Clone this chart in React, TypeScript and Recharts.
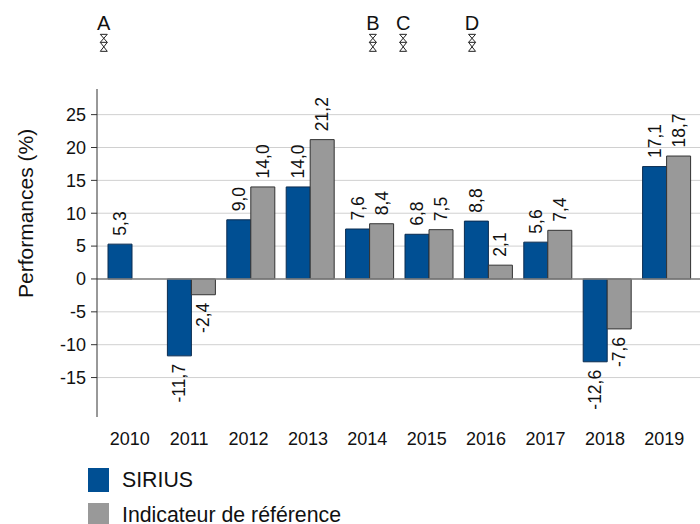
import { BarChart, Bar, XAxis, YAxis, CartesianGrid, Legend, LabelList, ReferenceLine, ReferenceDot } from "recharts";

const years = ["2010", "2011", "2012", "2013", "2014", "2015", "2016", "2017", "2018", "2019"];
const sirius = [5.3, -11.7, 9.0, 14.0, 7.6, 6.8, 8.8, 5.6, -12.6, 17.1];
const indicateur = [null, -2.4, 14.0, 21.2, 8.4, 7.5, 2.1, 7.4, -7.6, 18.7];
const yTicks = [-15, -10, -5, 0, 5, 10, 15, 20, 25];
const eventLabels = ["A", "B", "C", "D"];
const eventDates = [2010.03, 2014.56, 2015.07, 2016.23];

const data = years.map((year, i) => ({ year, sirius: sirius[i], indicateur: indicateur[i] }));

const FONT = "'Liberation Sans', Arial, sans-serif";
const TEXT = "#111111";
const BLUE = "#004f93";
const GREY = "#999999";

function BarValue({ x, y, width, height, value }: any) {
  if (value === null || value === undefined) return null;
  const top = Math.min(y, y + height);
  const bottom = Math.max(y, y + height);
  const cx = x + width / 2;
  const cy = value < 0 ? bottom + 8 : top - 8.5;
  return (
    <text
      x={cx}
      y={cy}
      transform={`rotate(-90 ${cx} ${cy})`}
      textAnchor={value < 0 ? "end" : "start"}
      dominantBaseline="central"
      fontSize={17.5}
      fontFamily={FONT}
      fill={TEXT}
    >
      {value.toFixed(1).replace(".", ",")}
    </text>
  );
}

function EventMark({ cx, cy, label }: any) {
  const l = cx - 3.5;
  const r = cx + 3.5;
  return (
    <g>
      <text x={cx} y={cy - 12} textAnchor="middle" fontSize={20} fontFamily={FONT} fill={TEXT}>
        {label}
      </text>
      <path
        d={`M${l} ${cy - 8}H${r}L${l} ${cy}H${r}L${l} ${cy + 9}H${r}M${l} ${cy - 8}L${r} ${cy}M${l} ${cy}L${r} ${cy + 9}`}
        fill="none"
        stroke="#222222"
        strokeWidth={1}
      />
    </g>
  );
}

function LegendBox() {
  const rows = [
    { name: "SIRIUS", color: BLUE },
    { name: "Indicateur de référence", color: GREY },
  ];
  return (
    <div style={{ fontFamily: FONT, fontSize: 21.3, lineHeight: "20px", color: TEXT }}>
      {rows.map((r) => (
        <div key={r.name} style={{ display: "flex", alignItems: "center", height: 35 }}>
          <span style={{ width: 21, height: 24, background: r.color, marginRight: 13 }} />
          <span>{r.name}</span>
        </div>
      ))}
    </div>
  );
}

export default function App() {
  return (
    <div style={{ position: "absolute", left: 0, top: 0, width: 700, height: 524, overflow: "hidden" }}>
      <BarChart
        width={700}
        height={524}
        data={data}
        barGap={0}
        barSize={24}
        margin={{ top: 89, right: 0, bottom: 67, left: 0 }}
      >
        <CartesianGrid vertical={false} stroke="#d0d0d0" horizontalValues={yTicks} />
        <XAxis
          dataKey="year"
          height={40}
          padding={{ left: 5, right: 4 }}
          axisLine={false}
          tickLine={false}
          interval={0}
          dy={7}
          dx={-2}
          tick={{ fill: TEXT, fontSize: 18, fontFamily: FONT }}
        />
        <XAxis
          xAxisId="time"
          dataKey="eventDate"
          type="number"
          scale="linear"
          domain={[2010, 2020]}
          allowDataOverflow
          padding={{ left: 5, right: 4 }}
          hide
        />
        <YAxis
          width={97}
          domain={[-21, 28.9]}
          ticks={yTicks}
          interval={0}
          allowDataOverflow
          stroke="#333333"
          tickSize={6}
          tickMargin={5}
          tick={{ fill: TEXT, fontSize: 18, fontFamily: FONT }}
          label={{
            value: "Performances (%)",
            angle: -90,
            position: "insideLeft",
            dx: 21,
            dy: 45,
            fill: TEXT,
            fontSize: 21,
            fontFamily: FONT,
          }}
        />
        <Legend
          layout="horizontal"
          verticalAlign="middle"
          align="center"
          content={<LegendBox />}
          wrapperStyle={{ position: "absolute", left: 88, top: 462, width: 400 }}
        />
        <ReferenceLine y={0} stroke="#808080" strokeWidth={1.5} />
        <Bar dataKey="sirius" name="SIRIUS" fill={BLUE} stroke="#0b2c50" strokeWidth={1} isAnimationActive={false}>
          <LabelList dataKey="sirius" content={<BarValue />} />
        </Bar>
        <Bar dataKey="indicateur" name="Indicateur de référence" fill={GREY} stroke="#333333" strokeWidth={1} isAnimationActive={false}>
          <LabelList dataKey="indicateur" content={<BarValue />} />
        </Bar>
        {eventDates.map((date, i) => (
          <ReferenceDot
            key={eventLabels[i]}
            xAxisId="time"
            x={date}
            y={36}
            ifOverflow="visible"
            shape={(p: any) => <EventMark {...p} label={eventLabels[i]} />}
          />
        ))}
      </BarChart>
    </div>
  );
}
